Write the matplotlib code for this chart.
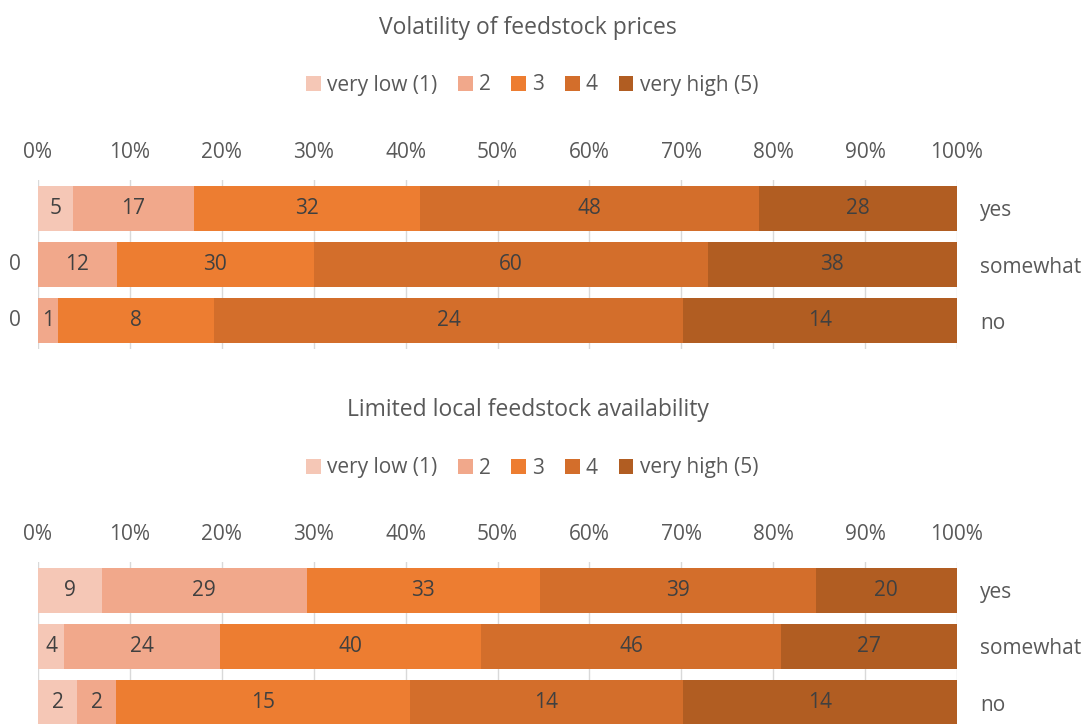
import numpy as np
import matplotlib.pyplot as plt
from matplotlib.patches import Patch
from matplotlib.ticker import PercentFormatter

plt.rcParams['font.family'] = ['Open Sans', 'DejaVu Sans']

groups = ["yes", "somewhat", "no"]
levels = ["very low (1)", "2", "3", "4", "very high (5)"]
colors = ["#F5C7B6", "#F1A88B", "#ED7D31", "#D36E2B", "#B15D22"]

title1 = "Volatility of feedstock prices"
price_counts = [
    [5, 17, 32, 48, 28],
    [0, 12, 30, 60, 38],
    [0, 1, 8, 24, 14],
]

title2 = "Limited local feedstock availability"
avail_counts = [
    [9, 29, 33, 39, 20],
    [4, 24, 40, 46, 27],
    [2, 2, 15, 14, 14],
]

W, H = 1084, 724
fig = plt.figure(figsize=(W / 100, H / 100), dpi=100)
txt = "#595959"
fs = 15


def px(x0, y0, x1, y1):
    # pixel box (top-left origin) -> figure fraction rect
    return [x0 / W, 1 - y1 / H, (x1 - x0) / W, (y1 - y0) / H]


def panel(rect, counts, title, title_y, legend_y):
    ax = fig.add_axes(rect)
    data = np.array(counts, dtype=float)
    shares = data / data.sum(axis=1, keepdims=True)
    y = np.arange(len(groups))
    left = np.zeros(len(groups))
    for j in range(len(levels)):
        ax.barh(y, shares[:, j], left=left, height=0.8, color=colors[j],
                edgecolor="none", zorder=2)
        for i in range(len(groups)):
            v = counts[i][j]
            if v == 0:
                ax.annotate("0", (0, y[i]), xytext=(-12, 0), textcoords="offset points",
                            ha="right", va="center", fontsize=fs, color=txt,
                            annotation_clip=False)
            else:
                ax.text(left[i] + shares[i, j] / 2, y[i], str(v), ha="center",
                        va="center", fontsize=fs, color="#404040", zorder=3)
        left += shares[:, j]
    ax.set_xlim(0, 1)
    ax.set_ylim(len(groups) - 0.5, -0.5)
    ax.set_xticks(np.linspace(0, 1, 11))
    ax.xaxis.set_major_formatter(PercentFormatter(1.0, decimals=0))
    ax.xaxis.tick_top()
    ax.yaxis.tick_right()
    ax.set_yticks(y)
    ax.set_yticklabels(groups)
    ax.tick_params(length=0, labelsize=fs, colors=txt)
    ax.tick_params(axis="x", pad=12.5)
    ax.tick_params(axis="y", pad=16.5)
    ax.grid(axis="x", color="#D9D9D9", linewidth=1, zorder=0)
    for s in ax.spines.values():
        s.set_visible(False)
    fig.text(528 / W, 1 - title_y / H, title, ha="center", va="center",
             fontsize=16.5, color=txt)
    handles = [Patch(facecolor=c, edgecolor="none") for c in colors]
    fig.legend(handles, levels, loc="center", bbox_to_anchor=(532 / W, 1 - legend_y / H),
               ncol=5, frameon=False, fontsize=fs, labelcolor=txt,
               handlelength=0.7, handleheight=0.7, handletextpad=0.3, columnspacing=1.0)
    return ax


panel(px(38, 180, 957, 349), price_counts, title1, 28, 85)
panel(px(38, 562, 957, 731), avail_counts, title2, 410, 468)

fig.savefig("out.png", dpi=100)
